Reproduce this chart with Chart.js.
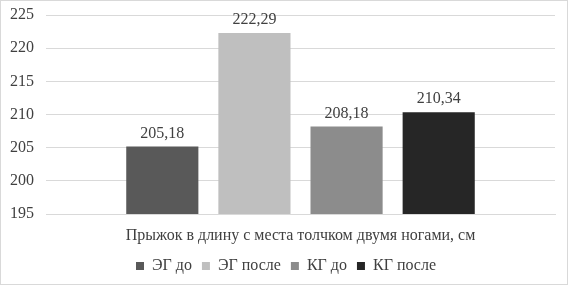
<!DOCTYPE html>
<html>
<head>
<meta charset="utf-8">
<script src="https://cdn.jsdelivr.net/npm/chart.js"></script>
<style>
  html, body { margin: 0; padding: 0; background: #fff; }
  #wrap { width: 568px; height: 285px; box-sizing: border-box; border: 1px solid #d9d9d9; }
  canvas { display: block; }
</style>
</head>
<body>
<div id="wrap"><canvas id="chart" width="566" height="283"></canvas></div>
<script>
// data
const categories = ["Прыжок в длину с места толчком двумя ногами, см"];
const seriesNames = ["ЭГ до", "ЭГ после", "КГ до", "КГ после"];
const seriesValues = [[205.18], [222.29], [208.18], [210.34]];
const seriesColors = ["#595959", "#bfbfbf", "#8c8c8c", "#262626"];
const yTicks = [195, 200, 205, 210, 215, 220, 225];

const FONT = "'Liberation Serif', 'Times New Roman', serif";
const TEXT = "#404040";

// value labels above bars
const valueLabels = {
  id: "valueLabels",
  afterDatasetsDraw(chart) {
    const ctx = chart.ctx;
    ctx.save();
    ctx.font = "16px " + FONT;
    ctx.fillStyle = TEXT;
    ctx.textAlign = "center";
    ctx.textBaseline = "bottom";
    chart.data.datasets.forEach((ds, i) => {
      chart.getDatasetMeta(i).data.forEach((bar, j) => {
        const txt = ds.data[j].toFixed(2).replace(".", ",");
        ctx.fillText(txt, bar.x, bar.y - 5);
      });
    });
    ctx.restore();
  }
};

// nudge the legend a bit to the right, like the original
const legendShift = {
  id: "legendShift",
  afterLayout(chart) {
    if (chart.legend) {
      chart.legend.left += 8;
      chart.legend.right += 8;
    }
  }
};

new Chart(document.getElementById("chart").getContext("2d"), {
  type: "bar",
  data: {
    labels: categories,
    datasets: seriesNames.map((name, i) => ({
      label: name,
      data: seriesValues[i],
      backgroundColor: seriesColors[i],
      borderWidth: 0,
      categoryPercentage: 0.724,
      barPercentage: 0.783,
    })),
  },
  options: {
    responsive: false,
    animation: false,
    layout: { padding: { top: 14, right: 12, left: 0, bottom: 0 } },
    plugins: {
      legend: {
        position: "bottom",
        labels: {
          font: { family: FONT, size: 16 },
          color: TEXT,
          boxWidth: 8,
          boxHeight: 8,
          padding: 10,
        },
      },
      tooltip: { enabled: false },
    },
    scales: {
      x: {
        grid: { display: false },
        border: { color: "#d9d9d9" },
        ticks: { font: { family: FONT, size: 16 }, color: TEXT, padding: 4 },
        afterFit: (axis) => { axis.height = 34; },
      },
      y: {
        min: yTicks[0],
        max: yTicks[yTicks.length - 1],
        afterBuildTicks: (axis) => { axis.ticks = yTicks.map(v => ({ value: v })); },
        grid: { color: "#d9d9d9", drawTicks: false },
        border: { display: false },
        ticks: { font: { family: FONT, size: 16 }, color: TEXT, padding: 12 },
        afterFit: (axis) => { axis.width = 45; axis.paddingTop = 0; axis.paddingBottom = 0; },
      },
    },
  },
  plugins: [valueLabels, legendShift],
});
</script>
</body>
</html>
